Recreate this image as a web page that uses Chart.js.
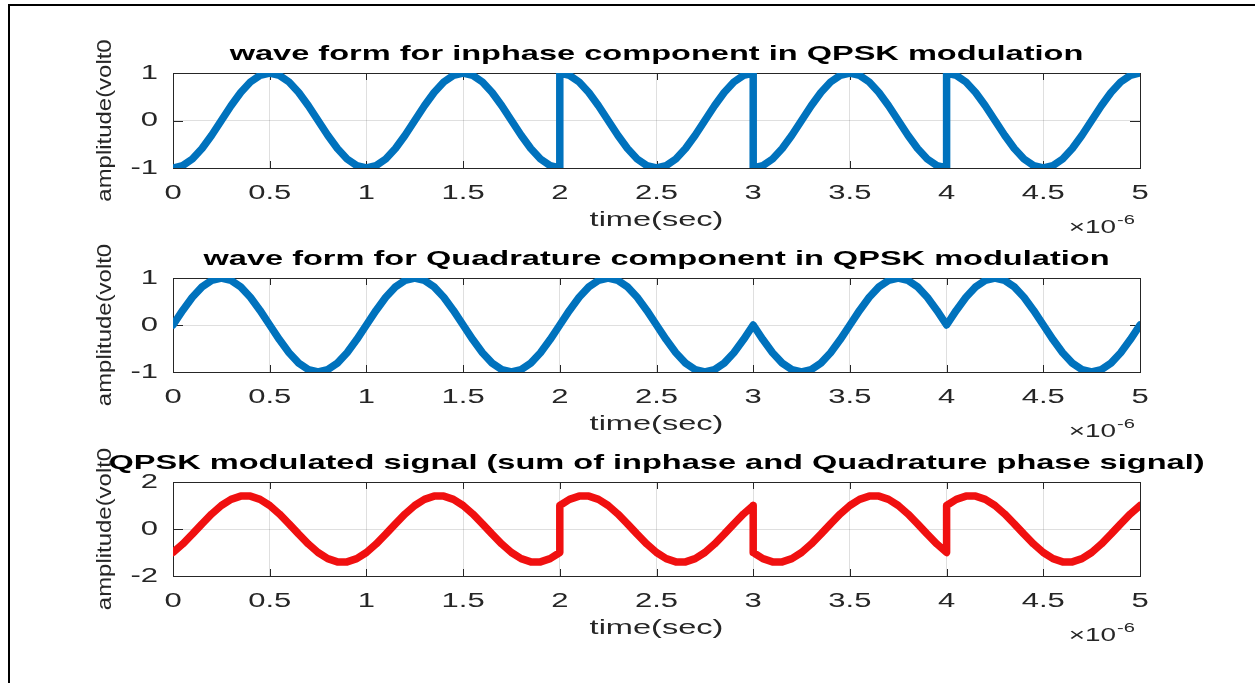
<!DOCTYPE html>
<html>
<head>
<meta charset="utf-8">
<script src="https://cdn.jsdelivr.net/npm/chart.js@4.4.1/dist/chart.umd.min.js"></script>
<style>
body { margin:0; background:#fff; width:1255px; height:683px; overflow:hidden; position:relative; }
#frame { position:absolute; left:8px; top:4px; width:1300px; height:800px; border:2px solid #000; }
canvas { position:absolute; left:0; }
</style>
</head>
<body>
<div id="frame"></div>
<canvas id="c1" width="1255" height="215" style="top:23px"></canvas>
<canvas id="c2" width="1255" height="214" style="top:228px"></canvas>
<canvas id="c3" width="1255" height="214" style="top:432px"></canvas>
<script>
// time in units of 1e-6 s, one row per bit (bit edges repeated so the jumps are vertical)
var time = [
  0, 0.05, 0.1, 0.15, 0.2, 0.25, 0.3, 0.35, 0.4, 0.45, 0.5, 0.55, 0.6, 0.65, 0.7, 0.75, 0.8, 0.85, 0.9, 0.95, 1,
  1, 1.05, 1.1, 1.15, 1.2, 1.25, 1.3, 1.35, 1.4, 1.45, 1.5, 1.55, 1.6, 1.65, 1.7, 1.75, 1.8, 1.85, 1.9, 1.95, 2,
  2, 2.05, 2.1, 2.15, 2.2, 2.25, 2.3, 2.35, 2.4, 2.45, 2.5, 2.55, 2.6, 2.65, 2.7, 2.75, 2.8, 2.85, 2.9, 2.95, 3,
  3, 3.05, 3.1, 3.15, 3.2, 3.25, 3.3, 3.35, 3.4, 3.45, 3.5, 3.55, 3.6, 3.65, 3.7, 3.75, 3.8, 3.85, 3.9, 3.95, 4,
  4, 4.05, 4.1, 4.15, 4.2, 4.25, 4.3, 4.35, 4.4, 4.45, 4.5, 4.55, 4.6, 4.65, 4.7, 4.75, 4.8, 4.85, 4.9, 4.95, 5
];
var inphase = [
  -1, -0.95, -0.81, -0.59, -0.31, 0, 0.31, 0.59, 0.81, 0.95, 1, 0.95, 0.81, 0.59, 0.31, 0, -0.31, -0.59, -0.81, -0.95, -1,
  -1, -0.95, -0.81, -0.59, -0.31, 0, 0.31, 0.59, 0.81, 0.95, 1, 0.95, 0.81, 0.59, 0.31, 0, -0.31, -0.59, -0.81, -0.95, -1,
  1, 0.95, 0.81, 0.59, 0.31, 0, -0.31, -0.59, -0.81, -0.95, -1, -0.95, -0.81, -0.59, -0.31, 0, 0.31, 0.59, 0.81, 0.95, 1,
  -1, -0.95, -0.81, -0.59, -0.31, 0, 0.31, 0.59, 0.81, 0.95, 1, 0.95, 0.81, 0.59, 0.31, 0, -0.31, -0.59, -0.81, -0.95, -1,
  1, 0.95, 0.81, 0.59, 0.31, 0, -0.31, -0.59, -0.81, -0.95, -1, -0.95, -0.81, -0.59, -0.31, 0, 0.31, 0.59, 0.81, 0.95, 1
];
var quadrature = [
  0, 0.31, 0.59, 0.81, 0.95, 1, 0.95, 0.81, 0.59, 0.31, 0, -0.31, -0.59, -0.81, -0.95, -1, -0.95, -0.81, -0.59, -0.31, 0,
  0, 0.31, 0.59, 0.81, 0.95, 1, 0.95, 0.81, 0.59, 0.31, 0, -0.31, -0.59, -0.81, -0.95, -1, -0.95, -0.81, -0.59, -0.31, 0,
  0, 0.31, 0.59, 0.81, 0.95, 1, 0.95, 0.81, 0.59, 0.31, 0, -0.31, -0.59, -0.81, -0.95, -1, -0.95, -0.81, -0.59, -0.31, 0,
  0, -0.31, -0.59, -0.81, -0.95, -1, -0.95, -0.81, -0.59, -0.31, 0, 0.31, 0.59, 0.81, 0.95, 1, 0.95, 0.81, 0.59, 0.31, 0,
  0, 0.31, 0.59, 0.81, 0.95, 1, 0.95, 0.81, 0.59, 0.31, 0, -0.31, -0.59, -0.81, -0.95, -1, -0.95, -0.81, -0.59, -0.31, 0
];
var qpsk = [
  -1, -0.64, -0.22, 0.22, 0.64, 1, 1.26, 1.4, 1.4, 1.26, 1, 0.64, 0.22, -0.22, -0.64, -1, -1.26, -1.4, -1.4, -1.26, -1,
  -1, -0.64, -0.22, 0.22, 0.64, 1, 1.26, 1.4, 1.4, 1.26, 1, 0.64, 0.22, -0.22, -0.64, -1, -1.26, -1.4, -1.4, -1.26, -1,
  1, 1.26, 1.4, 1.4, 1.26, 1, 0.64, 0.22, -0.22, -0.64, -1, -1.26, -1.4, -1.4, -1.26, -1, -0.64, -0.22, 0.22, 0.64, 1,
  -1, -1.26, -1.4, -1.4, -1.26, -1, -0.64, -0.22, 0.22, 0.64, 1, 1.26, 1.4, 1.4, 1.26, 1, 0.64, 0.22, -0.22, -0.64, -1,
  1, 1.26, 1.4, 1.4, 1.26, 1, 0.64, 0.22, -0.22, -0.64, -1, -1.26, -1.4, -1.4, -1.26, -1, -0.64, -0.22, 0.22, 0.64, 1
];
var timeTicks = [0, 0.5, 1, 1.5, 2, 2.5, 3, 3.5, 4, 4.5, 5];
var ampTicks = [-1, 0, 1];
var sumTicks = [-2, 0, 2];

var FONT = '"Liberation Sans", Arial, Helvetica, sans-serif';
var GREY = '#262626';
var GRID = 'rgba(38,38,38,0.15)';

// matlab's text is a lot wider than arial, stretch it along its baseline
var TEXT_STRETCH = 1.55;
var YTITLE_STRETCH = 1.14;
function widenText(ctx) {
  var fill = ctx.fillText;
  ctx.fillText = function (text, x, y) {
    var m = this.getTransform();
    var k = Math.abs(m.b) > 0.01 ? YTITLE_STRETCH : TEXT_STRETCH;
    this.save();
    this.translate(x, y);
    this.scale(k, 1);
    fill.call(this, text, 0, 0);
    this.restore();
  };
}

// box round the axes with the little inward tick marks
var boxPlugin = {
  id: 'matlabBox',
  beforeDatasetsDraw: function (chart) {
    var ctx = chart.ctx, a = chart.chartArea;
    var xs = chart.scales.x, ys = chart.scales.y;
    ctx.save();
    ctx.strokeStyle = GREY;
    ctx.lineWidth = 1;
    ctx.beginPath();
    xs.ticks.forEach(function (t) {
      var px = Math.round(xs.getPixelForValue(t.value)) + 0.5;
      ctx.moveTo(px, a.bottom); ctx.lineTo(px, a.bottom - 7);
      ctx.moveTo(px, a.top); ctx.lineTo(px, a.top + 7);
    });
    ys.ticks.forEach(function (t) {
      var py = Math.round(ys.getPixelForValue(t.value)) + 0.5;
      ctx.moveTo(a.left, py); ctx.lineTo(a.left + 10, py);
      ctx.moveTo(a.right, py); ctx.lineTo(a.right - 10, py);
    });
    ctx.stroke();
    ctx.strokeRect(Math.round(a.left) + 0.5, Math.round(a.top) + 0.5,
      Math.round(a.right - a.left), Math.round(a.bottom - a.top));
    ctx.restore();
  }
};

// y label and the x10^-6 under the right end of the time axis
var labelPlugin = {
  id: 'matlabLabels',
  afterDraw: function (chart) {
    var ctx = chart.ctx, a = chart.chartArea;
    ctx.save();
    ctx.fillStyle = GREY;
    ctx.font = '21px ' + FONT;
    ctx.textAlign = 'center';
    ctx.textBaseline = 'middle';
    ctx.translate(105, (a.top + a.bottom) / 2);
    ctx.rotate(-Math.PI / 2);
    ctx.fillText('amplitude(volt0', 0, 0);
    ctx.restore();

    ctx.save();
    ctx.fillStyle = GREY;
    ctx.textBaseline = 'alphabetic';
    ctx.font = '18px ' + FONT;
    ctx.textAlign = 'right';
    ctx.fillText('\u00d710', a.right - 24, a.bottom + 65);
    ctx.font = '13px ' + FONT;
    ctx.textAlign = 'left';
    ctx.fillText('-6', a.right - 23, a.bottom + 56);
    ctx.restore();
  }
};

function plainLabel(v) { return String(v); }

function makeChart(id, values, color, yTicks, title) {
  var ctx = document.getElementById(id).getContext('2d');
  widenText(ctx);
  return new Chart(ctx, {
    type: 'line',
    data: {
      datasets: [{
        data: time.map(function (t, i) { return { x: t, y: values[i] }; }),
        borderColor: color,
        borderWidth: 7.5,
        borderJoinStyle: 'round',
        borderCapStyle: 'round',
        pointRadius: 0,
        tension: 0,
        fill: false
      }]
    },
    options: {
      responsive: false,
      animation: false,
      events: [],
      layout: { padding: { left: 0, right: 115, top: 21, bottom: 0 } },
      plugins: {
        legend: { display: false },
        tooltip: { enabled: false },
        title: {
          display: true,
          text: title,
          fullSize: false,
          color: '#000',
          font: { family: FONT, size: 21, weight: 'bold', lineHeight: 1 },
          padding: { top: 0, bottom: 8 }
        }
      },
      scales: {
        x: {
          type: 'linear',
          min: timeTicks[0],
          max: timeTicks[timeTicks.length - 1],
          afterBuildTicks: function (s) { s.ticks = timeTicks.map(function (v) { return { value: v }; }); },
          afterFit: function (s) { s.height = 70; },
          grid: { color: GRID, drawTicks: false },
          border: { display: false },
          ticks: { autoSkip: false, maxRotation: 0, color: GREY, padding: 15, callback: plainLabel,
                   font: { family: FONT, size: 20, lineHeight: 1 } },
          title: { display: true, text: 'time(sec)', color: GREY,
                   font: { family: FONT, size: 21, lineHeight: 1 }, padding: { top: 0, bottom: 7 } }
        },
        y: {
          type: 'linear',
          min: yTicks[0],
          max: yTicks[yTicks.length - 1],
          afterBuildTicks: function (s) { s.ticks = yTicks.map(function (v) { return { value: v }; }); },
          afterFit: function (s) { s.width = 173; },
          grid: { color: GRID, drawTicks: false },
          border: { display: false },
          ticks: { color: GREY, padding: 15, callback: plainLabel,
                   font: { family: FONT, size: 20, lineHeight: 1 } }
        }
      }
    },
    plugins: [boxPlugin, labelPlugin]
  });
}

makeChart('c1', inphase, '#0072BD', ampTicks, 'wave form for inphase component in QPSK modulation');
makeChart('c2', quadrature, '#0072BD', ampTicks, 'wave form for Quadrature component in QPSK modulation');
makeChart('c3', qpsk, '#f01010', sumTicks, 'QPSK modulated signal (sum of inphase and Quadrature phase signal)');
</script>
</body>
</html>
